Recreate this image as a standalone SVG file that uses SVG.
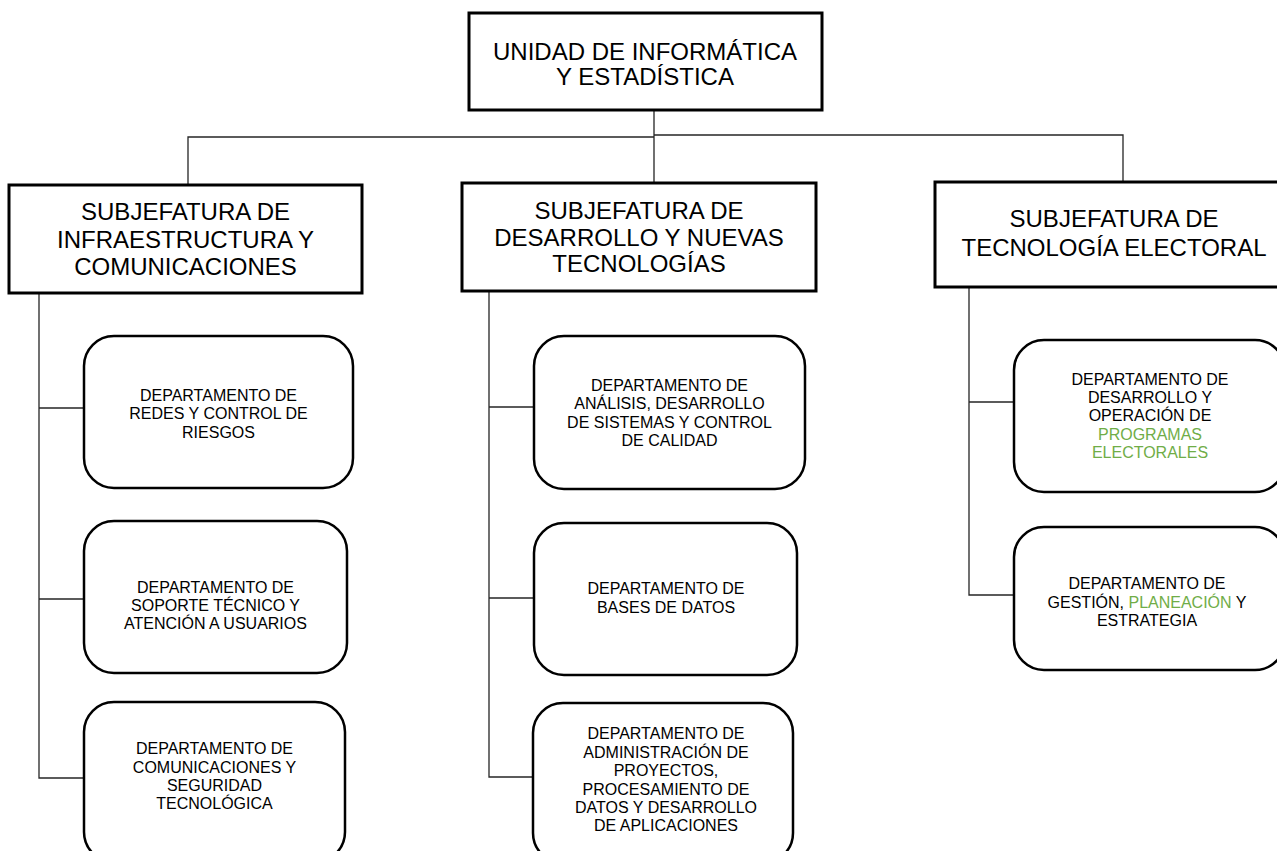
<svg xmlns="http://www.w3.org/2000/svg" width="1277" height="851" viewBox="0 0 1277 851">
<style>
.sq{fill:#fff;stroke:#000;stroke-width:3}
.rd{fill:#fff;stroke:#000;stroke-width:2.5}
.big{font-family:"Liberation Sans",Arial,sans-serif;font-size:24px;fill:#000;text-anchor:middle}
.sm{font-family:"Liberation Sans",Arial,sans-serif;font-size:16px;fill:#000;text-anchor:middle}
.g{fill:#70AD47}
.cn{fill:none;stroke:#262626;stroke-width:1.3}
</style>
<rect width="1277" height="851" fill="#fff"/>
<g id="connectors">
<path class="cn" d="M654,110 V137 M188,185 V137 H654 V183 M654,135 H1123 V182"/>
<path class="cn" d="M39,293 V778 H84 M39,408 H84 M39,599 H84"/>
<path class="cn" d="M489,291 V777 H534 M489,407 H534 M489,598 H534"/>
<path class="cn" d="M969,287 V595 H1014 M969,402 H1014"/>
</g>
<g id="unidad">
<rect class="sq" x="469" y="13" width="353" height="97"/>
<text class="big" x="645" y="60">UNIDAD DE INFORMÁTICA</text>
<text class="big" x="645" y="85">Y ESTADÍSTICA</text>
</g>
<g id="subj-infra">
<rect class="sq" x="9" y="185" width="353" height="108"/>
<text class="big" x="185.5" y="220">SUBJEFATURA DE</text>
<text class="big" x="185.5" y="248">INFRAESTRUCTURA Y</text>
<text class="big" x="185.5" y="275">COMUNICACIONES</text>
</g>
<g id="subj-desarrollo">
<rect class="sq" x="462" y="183" width="354" height="108"/>
<text class="big" x="639" y="219">SUBJEFATURA DE</text>
<text class="big" x="639" y="246">DESARROLLO Y NUEVAS</text>
<text class="big" x="639" y="272">TECNOLOGÍAS</text>
</g>
<g id="subj-electoral">
<rect class="sq" x="935" y="182" width="358" height="105"/>
<text class="big" x="1114" y="227">SUBJEFATURA DE</text>
<text class="big" x="1114" y="256">TECNOLOGÍA ELECTORAL</text>
</g>
<g id="dep-redes">
<rect class="rd" x="84" y="336" width="269" height="152" rx="30"/>
<text class="sm" x="218.5" y="400.5">DEPARTAMENTO DE</text>
<text class="sm" x="218.5" y="419">REDES Y CONTROL DE</text>
<text class="sm" x="218.5" y="437.5">RIESGOS</text>
</g>
<g id="dep-soporte">
<rect class="rd" x="84" y="521" width="263" height="152" rx="30"/>
<text class="sm" x="215.5" y="593">DEPARTAMENTO DE</text>
<text class="sm" x="215.5" y="611">SOPORTE TÉCNICO Y</text>
<text class="sm" x="215.5" y="629">ATENCIÓN A USUARIOS</text>
</g>
<g id="dep-comunicaciones">
<rect class="rd" x="84" y="702" width="261" height="160" rx="30"/>
<text class="sm" x="214.5" y="754">DEPARTAMENTO DE</text>
<text class="sm" x="214.5" y="772.5">COMUNICACIONES Y</text>
<text class="sm" x="214.5" y="791">SEGURIDAD</text>
<text class="sm" x="214.5" y="809">TECNOLÓGICA</text>
</g>
<g id="dep-analisis">
<rect class="rd" x="534" y="336" width="271" height="153" rx="30"/>
<text class="sm" x="669.5" y="391">DEPARTAMENTO DE</text>
<text class="sm" x="669.5" y="409">ANÁLISIS, DESARROLLO</text>
<text class="sm" x="669.5" y="428">DE SISTEMAS Y CONTROL</text>
<text class="sm" x="669.5" y="446">DE CALIDAD</text>
</g>
<g id="dep-bases">
<rect class="rd" x="534" y="523" width="263" height="152" rx="30"/>
<text class="sm" x="666" y="594">DEPARTAMENTO DE</text>
<text class="sm" x="666" y="613">BASES DE DATOS</text>
</g>
<g id="dep-proyectos">
<rect class="rd" x="533" y="703" width="260" height="160" rx="30"/>
<text class="sm" x="666" y="739">DEPARTAMENTO DE</text>
<text class="sm" x="666" y="758">ADMINISTRACIÓN DE</text>
<text class="sm" x="666" y="776">PROYECTOS,</text>
<text class="sm" x="666" y="794.5">PROCESAMIENTO DE</text>
<text class="sm" x="666" y="813">DATOS Y DESARROLLO</text>
<text class="sm" x="666" y="831">DE APLICACIONES</text>
</g>
<g id="dep-programas">
<rect class="rd" x="1014" y="340" width="271" height="152" rx="30"/>
<text class="sm" x="1150" y="385">DEPARTAMENTO DE</text>
<text class="sm" x="1150" y="403">DESARROLLO Y</text>
<text class="sm" x="1150" y="421">OPERACIÓN DE</text>
<text class="sm g" x="1150" y="440">PROGRAMAS</text>
<text class="sm g" x="1150" y="458">ELECTORALES</text>
</g>
<g id="dep-gestion">
<rect class="rd" x="1014" y="527" width="271" height="143" rx="30"/>
<text class="sm" x="1147" y="589">DEPARTAMENTO DE</text>
<text class="sm" x="1147" y="608">GESTIÓN, <tspan class="g">PLANEACIÓN</tspan> Y</text>
<text class="sm" x="1147" y="626">ESTRATEGIA</text>
</g>
</svg>
